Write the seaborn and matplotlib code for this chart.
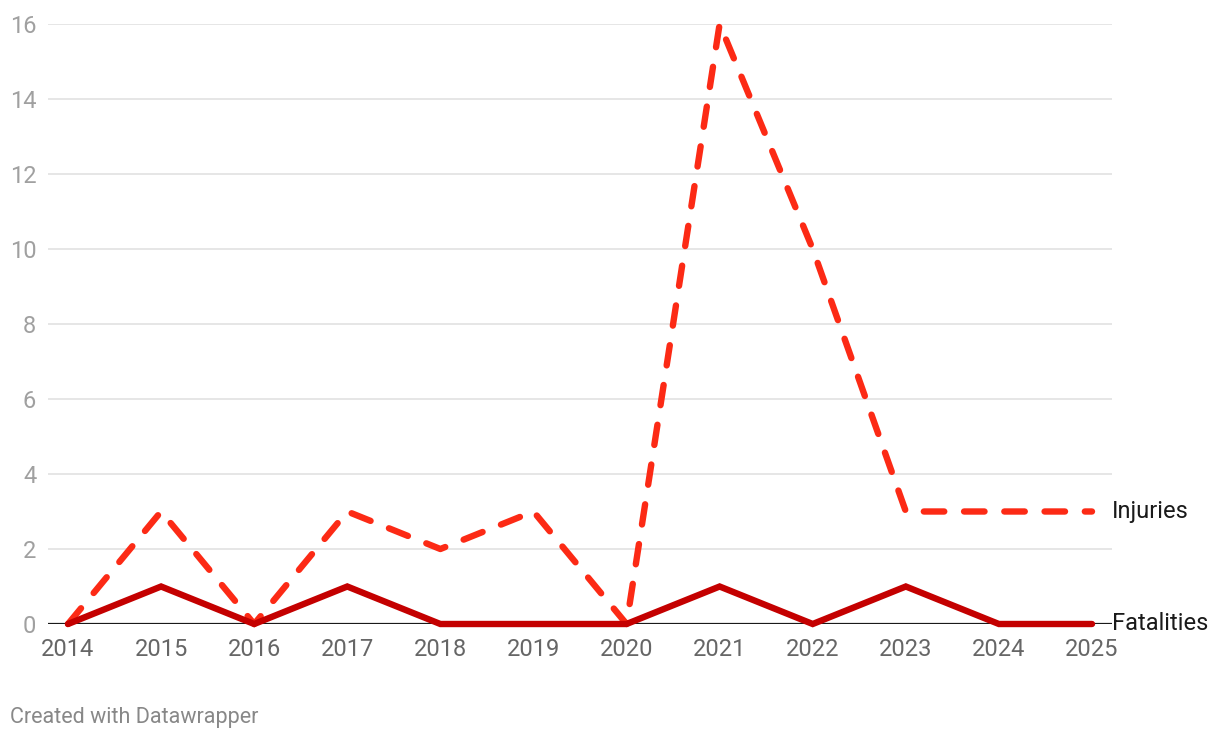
import pandas as pd
import numpy as np
import seaborn as sns
from matplotlib import pyplot as plt

years = [2014, 2015, 2016, 2017, 2018, 2019, 2020, 2021, 2022, 2023, 2024, 2025]
injuries = [0, 3, 0, 3, 2, 3, 0, 16, 10, 3, 3, 3]
fatalities = [0, 1, 0, 1, 0, 0, 0, 1, 0, 1, 0, 0]

df = pd.DataFrame({'Year': years, 'Injuries': injuries, 'Fatalities': fatalities})

sns.set_style('white')
plt.rcParams['font.family'] = ['Roboto', 'DejaVu Sans']

fig = plt.figure(figsize=(12.2, 7.4), dpi=100)
ax = fig.add_axes([48 / 1220, 116 / 740, 1064 / 1220, 600 / 740])

# gridlines
for v in range(2, 17, 2):
    ax.axhline(v, color='#e2e2e2', lw=1.2, zorder=0)
ax.axhline(0, color='#1a1a1a', lw=1.6, zorder=1)

sns.lineplot(data=df, x='Year', y='Injuries', ax=ax, color='#fc2a15', lw=4.6,
             linestyle=(0, (3.2, 3.1)), dash_capstyle='round', dash_joinstyle='round',
             clip_on=False, zorder=3)
sns.lineplot(data=df, x='Year', y='Fatalities', ax=ax, color='#c40000', lw=4.6,
             solid_capstyle='round', solid_joinstyle='miter', clip_on=False, zorder=4)

step = (1092 - 68) / 11
pad = 20 / step
ax.set_xlim(2014 - pad, 2025 + pad)
ax.set_ylim(0, 16)

for s in ax.spines.values():
    s.set_visible(False)

ax.set_xticks(years)
ax.set_xticklabels([str(y) for y in years], fontsize=17, color='#666666')
ax.set_yticks(range(0, 17, 2))
ax.set_yticklabels([str(v) for v in range(0, 17, 2)], fontsize=17, color='#a0a0a0')
ax.tick_params(axis='x', length=0, pad=10)
ax.tick_params(axis='y', length=0, pad=8.5)
ax.set_xlabel('')
ax.set_ylabel('')

ax.text(2025 + pad, injuries[-1], 'Injuries', fontsize=17, color='#1a1a1a',
        va='center', ha='left')
ax.text(2025 + pad, fatalities[-1], 'Fatalities', fontsize=17, color='#1a1a1a',
        va='center', ha='left')

fig.text(10 / 1220, 1 - 717 / 740, 'Created with Datawrapper', fontsize=15.5,
         color='#888888', va='center', ha='left')

fig.savefig('out.png', dpi=100)
